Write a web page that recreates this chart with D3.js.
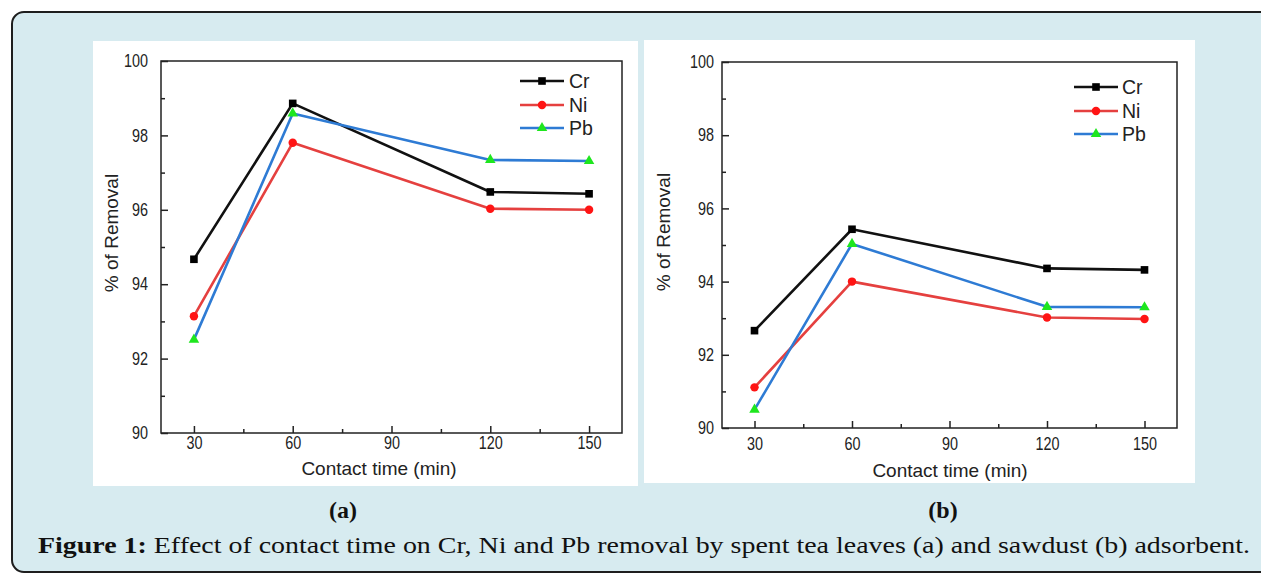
<!DOCTYPE html>
<html><head><meta charset="utf-8">
<script src="https://cdn.jsdelivr.net/npm/d3@7"></script>
<style>body{margin:0;background:#fff}svg{display:block}</style>
</head><body>
<svg id="chart" width="1261" height="574"></svg>
<script>
// ---------- data ----------
const times = [30, 60, 120, 150];
const seriesNames = ["Cr", "Ni", "Pb"];
const crA = [94.67, 98.86, 96.48, 96.43];
const niA = [93.14, 97.80, 96.03, 96.00];
const pbA = [92.51, 98.59, 97.34, 97.31];
const crB = [92.66, 95.43, 94.36, 94.32];
const niB = [91.11, 94.00, 93.02, 92.98];
const pbB = [90.50, 95.03, 93.31, 93.30];
const xTickValues = [30, 60, 90, 120, 150];
const xMinorValues = [45, 75, 105, 135];
const yTickValues = [90, 92, 94, 96, 98, 100];
const yMinorValues = [91, 93, 95, 97, 99];
const xDomain = [20, 160];
const yDomain = [90, 100];
const xAxisTitle = "Contact time (min)";
const yAxisTitle = "% of Removal";
const panelLabels = ["(a)", "(b)"];
const captionBold = "Figure 1:";
const captionRest = " Effect of contact time on Cr, Ni and Pb removal by spent tea leaves (a) and sawdust (b) adsorbent.";

// ---------- styles ----------
const lineColors = {Cr: "#111111", Ni: "#e5403f", Pb: "#2e7bd4"};
const markerColors = {Cr: "#000000", Ni: "#ff1414", Pb: "#1ee61e"};
const markerTypes = {Cr: d3.symbolSquare, Ni: d3.symbolCircle, Pb: d3.symbolTriangle};
const markerSizes = {Cr: 58, Ni: 56, Pb: 48};
const bgColor = "#d7ebf0";
const sansFont = "'Liberation Sans', Arial, sans-serif";
const serifFont = "'Liberation Serif', 'Times New Roman', serif";

const panels = [
  {series: {Cr: crA, Ni: niA, Pb: pbA},
   white: [93, 41, 545, 445], plot: {l: 161, r: 622, t: 61, b: 433},
   yPad: 13, xPad: 3, yTitle: [118, 233], xTitle: [379, 474.5],
   legend: {x1: 520, x2: 564, tx: 569, ys: [81, 105, 128]}, label: [343, 518]},
  {series: {Cr: crB, Ni: niB, Pb: pbB},
   white: [644, 40, 551, 443], plot: {l: 722, r: 1177, t: 62, b: 428},
   yPad: 8, xPad: 9, yTitle: [669.5, 232], xTitle: [950, 476.5],
   legend: {x1: 1074, x2: 1118, tx: 1122, ys: [87, 111, 134]}, label: [943, 518]}
];

const svg = d3.select("#chart");
svg.append("rect").attr("width", 1261).attr("height", 574).attr("fill", "#ffffff");
svg.append("rect").attr("x", 12).attr("y", 12).attr("width", 1300).attr("height", 560)
  .attr("rx", 12).attr("ry", 12).attr("fill", bgColor).attr("stroke", "#1e1e1e").attr("stroke-width", 2);

const tickScale = 0.8;

panels.forEach((p, pi) => {
  const g = svg.append("g");
  g.append("rect").attr("x", p.white[0]).attr("y", p.white[1]).attr("width", p.white[2]).attr("height", p.white[3]).attr("fill", "#ffffff");

  const x = d3.scaleLinear().domain(xDomain).range([p.plot.l, p.plot.r]);
  const y = d3.scaleLinear().domain(yDomain).range([p.plot.b, p.plot.t]);

  // frame
  g.append("rect").attr("x", p.plot.l).attr("y", p.plot.t)
    .attr("width", p.plot.r - p.plot.l).attr("height", p.plot.b - p.plot.t)
    .attr("fill", "none").attr("stroke", "#222").attr("stroke-width", 1.5);

  // x axis
  const xAx = g.append("g").attr("transform", `translate(0,${p.plot.b})`)
    .call(d3.axisBottom(x).tickValues(xTickValues).tickSizeInner(-7).tickSizeOuter(0).tickPadding(p.xPad));
  const xMin = g.append("g").attr("transform", `translate(0,${p.plot.b})`)
    .call(d3.axisBottom(x).tickValues(xMinorValues).tickSizeInner(-4).tickSizeOuter(0).tickFormat(""));
  // y axis
  const yAx = g.append("g").attr("transform", `translate(${p.plot.l},0)`)
    .call(d3.axisLeft(y).tickValues(yTickValues).tickSizeInner(-7).tickSizeOuter(0).tickPadding(p.yPad));
  const yMin = g.append("g").attr("transform", `translate(${p.plot.l},0)`)
    .call(d3.axisLeft(y).tickValues(yMinorValues).tickSizeInner(-4).tickSizeOuter(0).tickFormat(""));
  [xAx, xMin, yAx, yMin].forEach(a => {
    a.select(".domain").remove();
    a.selectAll("line").attr("stroke", "#222").attr("stroke-width", 1.5);
    a.selectAll("text").attr("font-family", sansFont).attr("font-size", 18).attr("fill", "#222");
  });
  xAx.selectAll("text").attr("transform", `scale(${tickScale},1)`);
  yAx.selectAll("text").attr("x", -p.yPad / tickScale).attr("transform", `scale(${tickScale},1)`);

  // titles
  g.append("text").attr("transform", `translate(${p.yTitle[0]},${p.yTitle[1]}) rotate(-90)`)
    .attr("text-anchor", "middle").attr("font-family", sansFont).attr("font-size", 19).attr("fill", "#222")
    .text(yAxisTitle);
  g.append("text").attr("x", p.xTitle[0]).attr("y", p.xTitle[1])
    .attr("text-anchor", "middle").attr("font-family", sansFont).attr("font-size", 19).attr("fill", "#222")
    .text(xAxisTitle);

  // series
  const line = d3.line().x((d, i) => x(times[i])).y(d => y(d));
  seriesNames.forEach(name => {
    const vals = p.series[name];
    g.append("path").datum(vals).attr("d", line).attr("fill", "none")
      .attr("stroke", lineColors[name]).attr("stroke-width", 2.6).attr("stroke-linejoin", "round");
  });
  seriesNames.forEach(name => {
    const vals = p.series[name];
    g.selectAll(null).data(vals).enter().append("path")
      .attr("transform", (d, i) => `translate(${x(times[i])},${y(d)})`)
      .attr("d", d3.symbol(markerTypes[name], markerSizes[name]))
      .attr("fill", markerColors[name]);
  });

  // legend
  seriesNames.forEach((name, i) => {
    const ly = p.legend.ys[i];
    g.append("line").attr("x1", p.legend.x1).attr("x2", p.legend.x2).attr("y1", ly).attr("y2", ly)
      .attr("stroke", lineColors[name]).attr("stroke-width", 2.6);
    g.append("path").attr("transform", `translate(${(p.legend.x1 + p.legend.x2) / 2},${ly})`)
      .attr("d", d3.symbol(markerTypes[name], markerSizes[name])).attr("fill", markerColors[name]);
    g.append("text").attr("x", p.legend.tx).attr("y", ly).attr("dy", "0.36em")
      .attr("font-family", sansFont).attr("font-size", 19.5).attr("fill", "#222").text(name);
  });

  // panel label
  svg.append("text").attr("x", p.label[0]).attr("y", p.label[1]).attr("text-anchor", "middle")
    .attr("font-family", serifFont).attr("font-weight", "bold").attr("font-size", 24).attr("fill", "#111")
    .text(panelLabels[pi]);
});

// caption
const cap = svg.append("text").attr("x", 38).attr("y", 553)
  .attr("font-family", serifFont).attr("font-size", 24).attr("fill", "#111")
  .attr("textLength", 1212).attr("lengthAdjust", "spacingAndGlyphs");
cap.append("tspan").attr("font-weight", "bold").text(captionBold);
cap.append("tspan").text(captionRest);
</script>
</body></html>
